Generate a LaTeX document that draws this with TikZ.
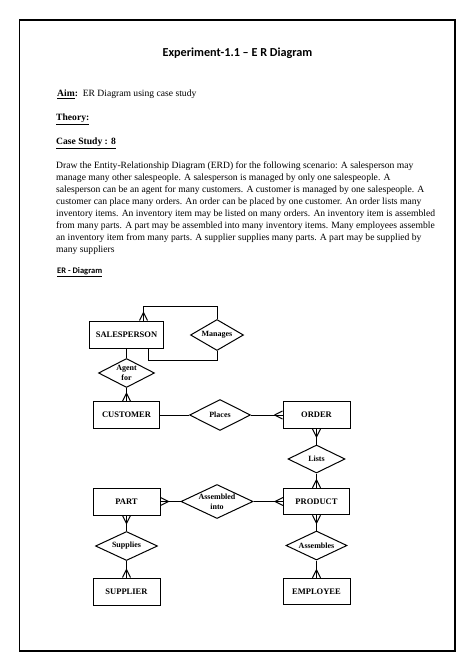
\documentclass[tikz,border=0pt]{standalone}
\usepackage{fontspec}
\setmainfont{Liberation Serif}
\newfontfamily\calfont{Carlito}
\usetikzlibrary{shapes.geometric,calc}
\newcommand{\crowat}[2]{\draw[conn] ($(#1)!8pt!(#2)$) -- ($(#1)!4pt!90:(#2)$) ($(#1)!8pt!(#2)$) -- ($(#1)!4pt!-90:(#2)$);}
\begin{document}
\begin{tikzpicture}[x=1pt,y=-1pt,
  ent/.style={draw,line width=1pt,inner sep=0pt,font=\fontsize{8.5}{10}\selectfont\bfseries},
  rel/.style={draw,diamond,line width=1pt,inner sep=0pt},
  lab/.style={font=\fontsize{8}{10}\selectfont\bfseries,align=center,inner sep=0pt},
  conn/.style={line width=1pt},
  para/.style={anchor=base west,inner sep=0pt,font=\fontsize{9.6}{12}\selectfont},
  head/.style={anchor=base west,inner sep=0pt,font=\fontsize{9.6}{12}\selectfont}]
\path[fill=white] (0,0) rectangle (474,671);
\useasboundingbox (0,0) rectangle (474,671);
\draw[line width=1.2pt] (19.5,20) rectangle (455,651);
% header texts
\node[anchor=base,inner sep=0pt,font=\calfont\bfseries\fontsize{12.2}{14}\selectfont] (title) at (237.5,57) {Experiment-1.1 – E R Diagram};
\node[head] (aim) at (57,97) {\textbf{\underline{Aim}:}\ \ ER Diagram using case study};
\node[head] (theory) at (56,121) {\textbf{\underline{Theory:}}};
\node[head] (case) at (56,145) {\textbf{\underline{Case Study : 8}}};
\node[para] (p1) at (56,168) {Draw the Entity-Relationship Diagram (ERD) for the following scenario: A salesperson may};
\node[para] (p2) at (56,180) {manage many other salespeople. A salesperson is managed by only one salespeople. A};
\node[para] (p3) at (56,192) {salesperson can be an agent for many customers. A customer is managed by one salespeople. A};
\node[para] (p4) at (56,204) {customer can place many orders. An order can be placed by one customer. An order lists many};
\node[para] (p5) at (56,216) {inventory items. An inventory item may be listed on many orders. An inventory item is assembled};
\node[para] (p6) at (56,228) {from many parts. A part may be assembled into many inventory items. Many employees assemble};
\node[para] (p7) at (56,240) {an inventory item from many parts. A supplier supplies many parts. A part may be supplied by};
\node[para] (p8) at (56,252) {many suppliers};
\node[anchor=base west,inner sep=0pt,font=\calfont\bfseries\fontsize{8.5}{10}\selectfont] (erd) at (57,273) {\underline{ER - Diagram}};
% entities
\node[ent,minimum width=74pt,minimum height=27pt] (sp) at (126.5,334.5) {SALESPERSON};
\node[ent,minimum width=66pt,minimum height=26.5pt] (cu) at (126.5,415) {CUSTOMER};
\node[ent,minimum width=67pt,minimum height=27pt] (or) at (316.5,415) {ORDER};
\node[ent,minimum width=67pt,minimum height=27pt] (pa) at (126.5,501.5) {PART};
\node[ent,minimum width=66pt,minimum height=26.5pt] (pr) at (316.5,501.5) {PRODUCT};
\node[ent,minimum width=67pt,minimum height=27pt] (sup) at (126.5,591.5) {SUPPLIER};
\node[ent,minimum width=67pt,minimum height=26.5pt] (em) at (316.5,591.5) {EMPLOYEE};
% relationships
\node[rel,minimum width=53pt,minimum height=31pt,label={[lab]center:Manages}] (man) at (217,335) {};
\node[rel,minimum width=56pt,minimum height=29pt,label={[lab]center:{Agent\\for}}] (ag) at (126.5,373) {};
\node[rel,minimum width=61pt,minimum height=31pt,label={[lab]center:Places}] (pl) at (220,415) {};
\node[rel,minimum width=57pt,minimum height=28pt,label={[lab]center:Lists}] (li) at (316.5,459) {};
\node[rel,minimum width=72pt,minimum height=34pt,label={[lab]center:{Assembled\\into}}] (asm) at (217,501.5) {};
\node[rel,minimum width=62pt,minimum height=29pt,label={[lab]center:Supplies}] (su) at (126.5,546) {};
\node[rel,minimum width=61pt,minimum height=29pt,label={[lab]center:Assembles}] (as) at (316.5,545.5) {};
% manages loop
\coordinate (spT) at ([xshift=17pt]sp.north);
\coordinate (spTu) at ($(spT)+(0,-10)$);
\coordinate (spB) at ([xshift=21.5pt]sp.south);
\draw[conn] (spT) -- ++(0,-14) -| (man.north);
\draw[conn] (spB) -- ++(0,12) -| (man.south);
\crowat{spT}{spTu}
% connectors
\draw[conn] (sp.south) -- (ag.north);
\draw[conn] (ag.south) -- (cu.north);
\draw[conn] (cu.east) -- (pl.west);
\draw[conn] (pl.east) -- (or.west);
\draw[conn] (or.south) -- (li.north);
\draw[conn] (li.south) -- (pr.north);
\draw[conn] (pa.east) -- (asm.west);
\draw[conn] (asm.east) -- (pr.west);
\draw[conn] (pa.south) -- (su.north);
\draw[conn] (su.south) -- (sup.north);
\draw[conn] (pr.south) -- (as.north);
\draw[conn] (as.south) -- (em.north);
% crow's feet
\crowat{cu.north}{ag.south}
\crowat{or.west}{pl.east}
\crowat{or.south}{li.north}
\crowat{pr.north}{li.south}
\crowat{pa.east}{asm.west}
\crowat{pr.west}{asm.east}
\crowat{pa.south}{su.north}
\crowat{sup.north}{su.south}
\crowat{pr.south}{as.north}
\crowat{em.north}{as.south}
\end{tikzpicture}
\end{document}
